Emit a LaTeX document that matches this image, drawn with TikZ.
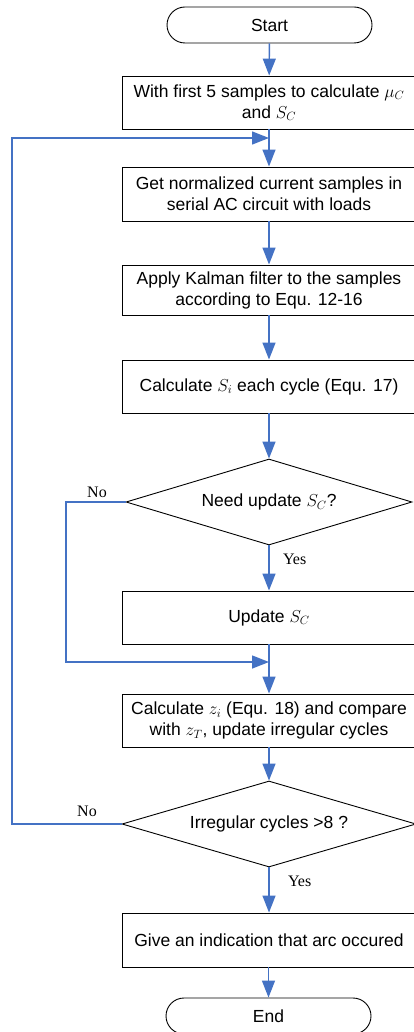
\documentclass[tikz,border=0pt]{standalone}
\usepackage{fontspec}
\setmainfont{Liberation Sans}
\newfontfamily\labelfont{Liberation Serif}
\usetikzlibrary{shapes.geometric,arrows.meta}
\definecolor{flowblue}{RGB}{68,114,196}

\begin{document}
\begin{tikzpicture}[x=1pt,y=-1pt,
    box/.style={draw,line width=0.9pt,minimum width=294pt,minimum height=53pt,
        align=center,font=\fontsize{17.5}{21}\selectfont,inner sep=2pt},
    term/.style={draw,line width=0.9pt,rounded corners=18pt,minimum width=205pt,
        minimum height=36pt,font=\fontsize{17.5}{20}\selectfont},
    decide/.style={draw,diamond,aspect=3.3,line width=0.9pt,minimum width=286pt,minimum height=86pt,
        font=\fontsize{17.5}{20}\selectfont,inner sep=0pt},
    flow/.style={draw=flowblue,line width=1.4pt,-{Triangle[width=13pt,length=17pt]}},
    lbl/.style={font=\labelfont\fontsize{16}{18}\selectfont}]
    \useasboundingbox (0,0) rectangle (414,1032);
    % nodes
    \node[term] (start) at (269.5,25) {Start};
    \node[box] (init) at (269,102.5) {With first 5 samples to calculate $\mu_C$\\and $S_C$};
    \node[box,minimum height=54pt] (samples) at (269,194) {Get normalized current samples in\\serial AC circuit with loads};
    \node[box,minimum height=50pt] (kalman) at (269,290) {Apply Kalman filter to the samples\\according to Equ. 12-16};
    \node[box] (calcs) at (269,386.5) {Calculate $S_i$ each cycle (Equ. 17)};
    \node[decide] (need) at (269,502) {Need update $S_C$?};
    \node[box] (update) at (269,617.5) {Update $S_C$};
    \node[box] (calcz) at (269,720.5) {Calculate $z_i$ (Equ. 18) and compare\\with $z_T$, update irregular cycles};
    \node[decide,minimum width=294pt,aspect=3.4] (irr) at (269,824) {Irregular cycles >8 ?};
    \node[box,minimum height=54pt] (give) at (269,940) {Give an indication that arc occured};
    \node[term] (end) at (268.5,1016) {End};
    % junctions
    \coordinate (loopin) at (269,138);
    \coordinate (skipin) at (269,662);
    \coordinate (skipcorner) at (66,502);
    \coordinate (loopcorner) at (12,824);
    % connectors
    \draw[flow] (start) -- (init);
    \draw[flow] (init) -- (samples);
    \draw[flow] (samples) -- (kalman);
    \draw[flow] (kalman) -- (calcs);
    \draw[flow] (calcs) -- (need);
    \draw[flow] (need) -- (update) node[lbl,pos=0.3,right=10pt] {Yes};
    \draw[flow] (update) -- (calcz);
    \draw[flow] (calcz) -- (irr);
    \draw[flow] (irr) -- (give) node[lbl,pos=0.3,right=15pt] {Yes};
    \draw[flow] (give.south -| end) -- (end);
    \begin{scope}[flow] % No branches
        \draw (need.west) -- (skipcorner) |- (skipin);
        \draw (irr.west) -- (loopcorner) |- (loopin);
    \end{scope}
    \node[lbl] (no1) at (97,492) {No};
    \node[lbl] (no2) at (87,811) {No};
\end{tikzpicture}
\end{document}
